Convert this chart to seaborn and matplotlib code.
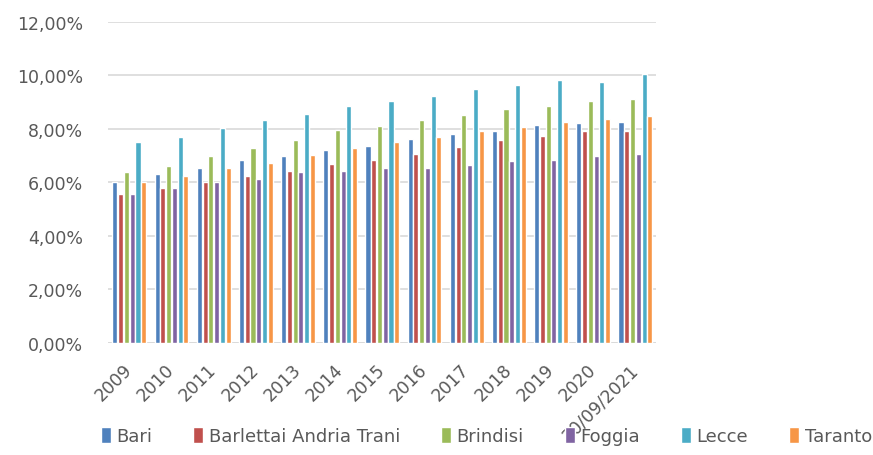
import matplotlib
matplotlib.use("Agg")
import matplotlib.pyplot as plt
import seaborn as sns
import pandas as pd
from matplotlib.ticker import FuncFormatter, MultipleLocator

# Periods on the x axis
periods = ["2009", "2010", "2011", "2012", "2013", "2014", "2015",
           "2016", "2017", "2018", "2019", "2020", "30/09/2021"]

# Rates per province, in percent
bari     = [6.01, 6.30, 6.53, 6.83, 7.00, 7.21, 7.36, 7.61, 7.80, 7.90, 8.14, 8.20, 8.26]
bat      = [5.55, 5.78, 6.01, 6.23, 6.44, 6.69, 6.83, 7.04, 7.33, 7.59, 7.74, 7.90, 7.93]
brindisi = [6.39, 6.61, 6.99, 7.30, 7.59, 7.96, 8.11, 8.34, 8.50, 8.73, 8.85, 9.04, 9.10]
foggia   = [5.55, 5.78, 6.01, 6.14, 6.39, 6.43, 6.53, 6.53, 6.66, 6.78, 6.85, 6.98, 7.06]
lecce    = [7.51, 7.71, 8.03, 8.33, 8.55, 8.86, 9.03, 9.24, 9.47, 9.62, 9.81, 9.75, 10.05]
taranto  = [6.01, 6.23, 6.53, 6.74, 7.03, 7.29, 7.51, 7.68, 7.90, 8.05, 8.27, 8.36, 8.48]

provinces = ["Bari", "Barlettai Andria Trani", "Brindisi", "Foggia", "Lecce", "Taranto"]
colors = ["#4F81BD", "#C0504D", "#9BBB59", "#8064A2", "#4BACC6", "#F79646"]

series = [bari, bat, brindisi, foggia, lecce, taranto]
rows = []
for name, vals in zip(provinces, series):
    for p, v in zip(periods, vals):
        rows.append({"periodo": p, "provincia": name, "valore": v / 100})
df = pd.DataFrame(rows)

sns.set_style("white")
plt.rcParams["font.family"] = ["DejaVu Sans"]

fig = plt.figure(figsize=(8.73, 4.56), dpi=100)
ax = fig.add_axes([0.124, 0.246, 0.628, 0.704])

sns.barplot(data=df, x="periodo", y="valore", hue="provincia",
            hue_order=provinces, palette=colors, order=periods,
            width=0.82, gap=0.12, saturation=1, errorbar=None, ax=ax)

ax.set_ylim(0, 0.12)
ax.set_xlim(-0.5, len(periods) - 0.5)
ax.yaxis.set_major_locator(MultipleLocator(0.02))
ax.yaxis.set_major_formatter(FuncFormatter(lambda v, _: f"{v*100:.2f}%".replace(".", ",")))
ax.grid(axis="y", color="#d9d9d9", linewidth=1.2)
ax.set_axisbelow(True)
for s in ax.spines.values():
    s.set_visible(False)
ax.axhline(0, color="#d9d9d9", linewidth=1.2, zorder=0.5)

ax.set_xlabel("")
ax.set_ylabel("")
ax.tick_params(axis="both", length=0, labelsize=12.5, labelcolor="#595959")
ax.tick_params(axis="y", pad=18)
ax.tick_params(axis="x", pad=17)
plt.setp(ax.get_xticklabels(), rotation=45, ha="right", va="center",
         rotation_mode="anchor")

handles, labels = ax.get_legend_handles_labels()
ax.get_legend().remove()
fig.legend(handles, labels, loc="center", bbox_to_anchor=(0.557, 0.042),
           ncol=6, frameon=False, fontsize=13, labelcolor="#595959",
           handlelength=0.55, handleheight=1.0, handletextpad=0.3,
           columnspacing=2.28)

fig.savefig("out.png", dpi=100)
